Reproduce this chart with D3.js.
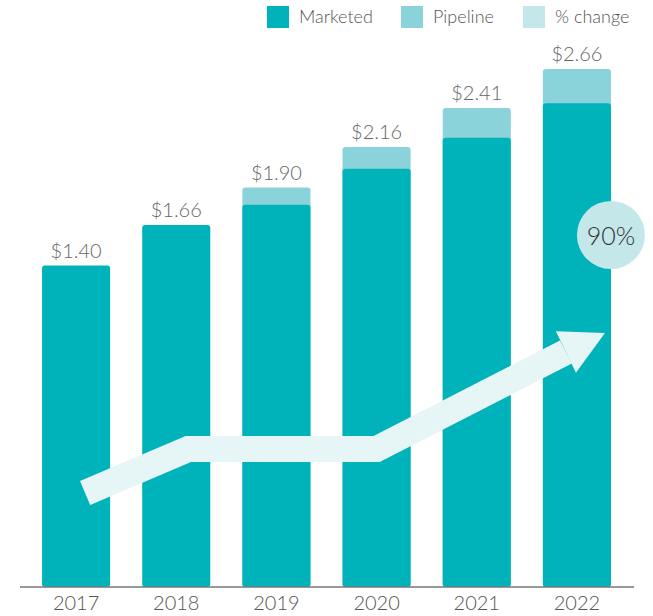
<!DOCTYPE html>
<html>
<head>
<meta charset="utf-8">
<script src="https://cdn.jsdelivr.net/npm/d3@7"></script>
<style>
  body { margin: 0; background: #fff; }
  svg { display: block; font-family: Lato, "Open Sans", sans-serif; font-weight: 300; }
</style>
</head>
<body>
<svg id="chart" width="653" height="616"></svg>
<script>
// Data
const years = ['2017', '2018', '2019', '2020', '2021', '2022'];
const marketed = [1.40, 1.66, 1.79, 2.02, 2.22, 2.44];
const pipeline = [0, 0, 0.11, 0.14, 0.19, 0.22];
const totalLabels = ['$1.40', '$1.66', '$1.90', '$2.16', '$2.41', '$2.66'];
const legendItems = ['Marketed', 'Pipeline', '% change'];
const pctChange = '90%';
// decorative trend arrow: [year, trend value]
const trendYears = [2017.09, 2018.12, 2020, 2021.89];
const trendValues = [2.4, 28.6, 28.6, 86.4];
const trendTip = [2022.28, 97.7];

const colors = { marketed: '#00b3bb', pipeline: '#8bd3da', change: '#c4e7e9', arrow: '#e6f5f6' };

const svg = d3.select('#chart');
const baseY = 587;

// --- Scales ---
const x = d3.scaleBand().domain(years).range([26, 627]).paddingInner(0.32).paddingOuter(0.16);
const y = d3.scaleLinear().domain([-0.66, 2.66]).range([baseY, 69]);
const xYear = d3.scaleLinear().domain([2017, 2022])
    .range([x('2017') + x.bandwidth() / 2, x('2022') + x.bandwidth() / 2]);
const yTrend = d3.scaleLinear().domain([0, 90]).range([497, 346]);

const rows = years.map((yr, i) => ({ yr, m: marketed[i], p: pipeline[i], label: totalLabels[i] }));

// --- Bars ---
const bars = svg.append('g');
bars.selectAll('.pipe')
    .data(rows.filter(d => d.p > 0))
    .enter().append('rect')
    .attr('x', d => x(d.yr))
    .attr('width', x.bandwidth())
    .attr('y', d => y(d.m + d.p))
    .attr('height', d => baseY - y(d.m + d.p))
    .attr('rx', 3)
    .attr('fill', colors.pipeline);

bars.selectAll('.mkt')
    .data(rows)
    .enter().append('rect')
    .attr('x', d => x(d.yr))
    .attr('width', x.bandwidth())
    .attr('y', d => y(d.m))
    .attr('height', d => baseY - y(d.m))
    .attr('rx', 3)
    .attr('fill', colors.marketed);

bars.selectAll('.val')
    .data(rows)
    .enter().append('text')
    .attr('x', d => x(d.yr) + x.bandwidth() / 2)
    .attr('y', d => y(d.m + d.p) - 8)
    .attr('text-anchor', 'middle')
    .attr('font-size', 20)
    .attr('fill', '#666')
    .text(d => d.label);

// --- Trend arrow ---
const pts = trendYears.map((yr, i) => [xYear(yr), yTrend(trendValues[i])]);
svg.append('path')
    .attr('d', d3.line()(pts))
    .attr('fill', 'none')
    .attr('stroke', colors.arrow)
    .attr('stroke-width', 26)
    .attr('stroke-linejoin', 'miter');

const base = pts[pts.length - 1];
const tip = [xYear(trendTip[0]), yTrend(trendTip[1])];
const dx = tip[0] - base[0], dy = tip[1] - base[1];
const len = Math.hypot(dx, dy);
const px = -dy / len * 23, py = dx / len * 23;
svg.append('path')
    .attr('d', d3.line()([[base[0] - px, base[1] - py], tip, [base[0] + px, base[1] + py]]) + 'Z')
    .attr('fill', colors.arrow);

// --- % change bubble ---
svg.append('circle')
    .attr('cx', x('2022') + x.bandwidth() / 2 + 34)
    .attr('cy', 235)
    .attr('r', 34)
    .attr('fill', colors.change);
svg.append('text')
    .attr('x', x('2022') + x.bandwidth() / 2 + 34)
    .attr('y', 235)
    .attr('text-anchor', 'middle')
    .attr('dominant-baseline', 'central')
    .attr('font-size', 25)
    .attr('fill', '#333')
    .text(pctChange);

// --- Axis ---
const axis = svg.append('g').attr('transform', `translate(0,${baseY})`)
    .call(d3.axisBottom(x).tickSize(0).tickPadding(9));
axis.select('.domain').attr('d', 'M20,0H634').attr('stroke', '#777').attr('stroke-width', 1.5);
axis.selectAll('text').attr('font-size', 20).attr('fill', '#555')
    .attr('font-family', 'Lato, sans-serif').attr('font-weight', 300);

// --- Legend ---
const legendX = [267, 401, 523];
const legendColors = [colors.marketed, colors.pipeline, colors.change];
const legend = svg.append('g');
legendItems.forEach((name, i) => {
    legend.append('rect')
        .attr('x', legendX[i]).attr('y', 6)
        .attr('width', 22).attr('height', 22)
        .attr('fill', legendColors[i]);
    legend.append('text')
        .attr('x', legendX[i] + 32).attr('y', 23)
        .attr('font-size', 18)
        .attr('fill', '#555')
        .text(name);
});
</script>
</body>
</html>
